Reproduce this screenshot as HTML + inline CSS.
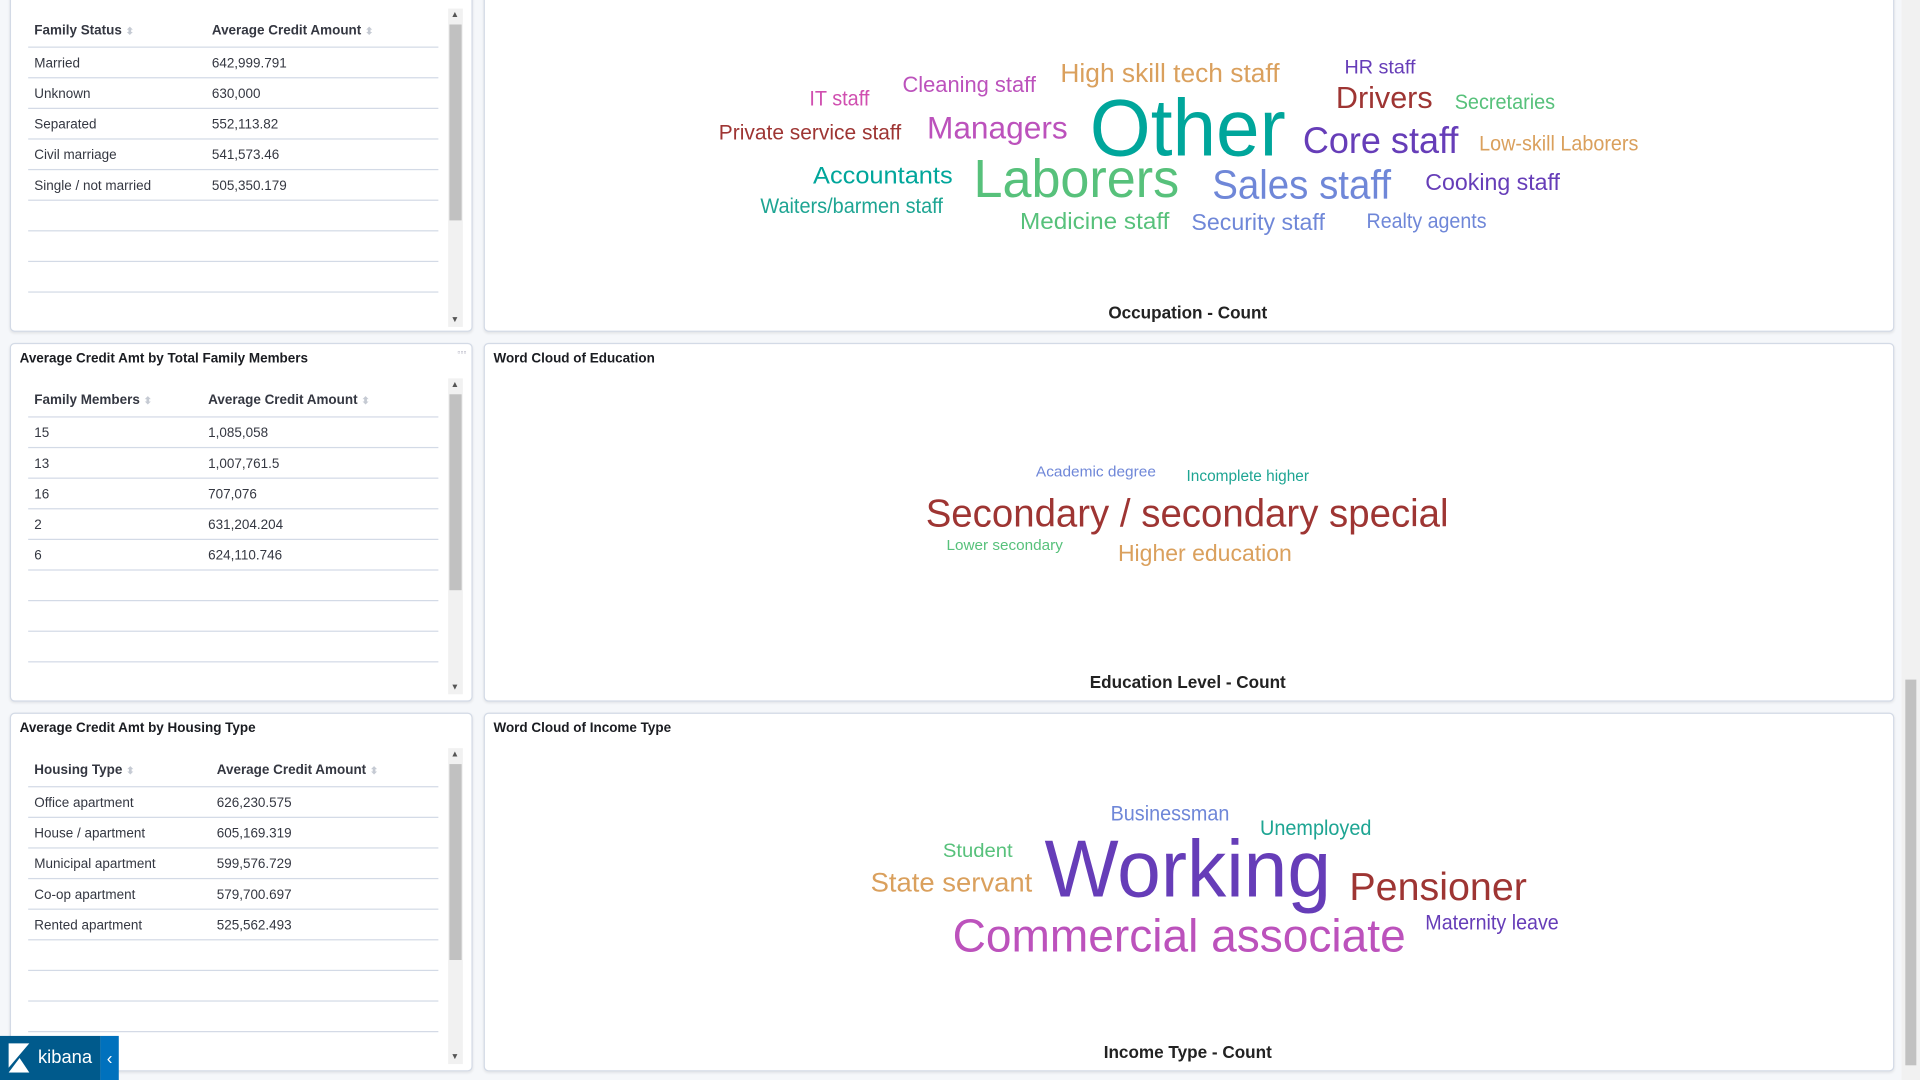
<!DOCTYPE html>
<html><head><meta charset="utf-8">
<style>
html,body{margin:0;padding:0;width:1920px;height:1080px;overflow:hidden;background:#f5f7fa;font-family:"Liberation Sans",sans-serif;}
#root{position:absolute;left:0;top:0;width:1568px;height:882px;transform:scale(1.22449);transform-origin:0 0;}
.panel{position:absolute;background:#fff;border:1px solid #d3dae6;border-radius:4px;box-shadow:0 1px 2px rgba(0,0,0,.08);}
.ptitle{position:absolute;left:7px;top:6px;font-size:11px;font-weight:bold;color:#1a1c21;}
.tbl{position:absolute;left:14px;width:335px;}
.hdr{height:26px;border-bottom:1px solid #d3dae6;font-size:11px;font-weight:bold;color:#343741;position:relative;}
.row{height:24px;border-bottom:1px solid #d3dae6;font-size:11px;color:#343741;position:relative;}
.c1,.c2{position:absolute;top:7px;}
.c1{left:5px}
.sort{color:#c5cad3;font-size:8px;}
.vscroll{position:absolute;width:12px;background:#f1f1f1;}
.thumb{position:absolute;left:1px;width:10px;background:#c1c1c1;}
.arr{position:absolute;left:2px;font-size:7px;color:#555;}
svg text{font-family:"Liberation Sans Narrow","Liberation Sans",sans-serif;}
</style></head><body>
<div id="root">

<div class="panel" style="left:8px;top:-6px;width:376px;height:275px;">
 <div class="tbl" style="top:17px">
  <div class="hdr"><span class="c1">Family Status <span class="sort">⬍</span></span><span class="c2" style="left:150px">Average Credit Amount <span class="sort">⬍</span></span></div>
  <div class="row"><span class="c1">Married</span><span class="c2" style="left:150px">642,999.791</span></div>
  <div class="row"><span class="c1">Unknown</span><span class="c2" style="left:150px">630,000</span></div>
  <div class="row"><span class="c1">Separated</span><span class="c2" style="left:150px">552,113.82</span></div>
  <div class="row"><span class="c1">Civil marriage</span><span class="c2" style="left:150px">541,573.46</span></div>
  <div class="row"><span class="c1">Single / not married</span><span class="c2" style="left:150px">505,350.179</span></div>
  <div class="row"></div><div class="row"></div><div class="row"></div>
 </div>
 <div class="vscroll" style="left:357px;top:12px;height:260px"><span class="arr" style="top:2px">▲</span><div class="thumb" style="top:13px;height:160px"></div><span class="arr" style="bottom:2px">▼</span></div>
</div>

<div class="panel" style="left:8px;top:280px;width:376px;height:291px;">
 <div class="ptitle">Average Credit Amt by Total Family Members</div>
 <div style="position:absolute;right:4px;top:4px;font-size:7px;color:#aab">▫▫▫</div>
 <div class="tbl" style="top:33px">
  <div class="hdr"><span class="c1">Family Members <span class="sort">⬍</span></span><span class="c2" style="left:147px">Average Credit Amount <span class="sort">⬍</span></span></div>
  <div class="row"><span class="c1">15</span><span class="c2" style="left:147px">1,085,058</span></div>
  <div class="row"><span class="c1">13</span><span class="c2" style="left:147px">1,007,761.5</span></div>
  <div class="row"><span class="c1">16</span><span class="c2" style="left:147px">707,076</span></div>
  <div class="row"><span class="c1">2</span><span class="c2" style="left:147px">631,204.204</span></div>
  <div class="row"><span class="c1">6</span><span class="c2" style="left:147px">624,110.746</span></div>
  <div class="row"></div><div class="row"></div><div class="row"></div>
 </div>
 <div class="vscroll" style="left:357px;top:28px;height:258px"><span class="arr" style="top:2px">▲</span><div class="thumb" style="top:13px;height:160px"></div><span class="arr" style="bottom:2px">▼</span></div>
</div>

<div class="panel" style="left:8px;top:582px;width:376px;height:291px;">
 <div class="ptitle">Average Credit Amt by Housing Type</div>
 <div class="tbl" style="top:33px">
  <div class="hdr"><span class="c1">Housing Type <span class="sort">⬍</span></span><span class="c2" style="left:154px">Average Credit Amount <span class="sort">⬍</span></span></div>
  <div class="row"><span class="c1">Office apartment</span><span class="c2" style="left:154px">626,230.575</span></div>
  <div class="row"><span class="c1">House / apartment</span><span class="c2" style="left:154px">605,169.319</span></div>
  <div class="row"><span class="c1">Municipal apartment</span><span class="c2" style="left:154px">599,576.729</span></div>
  <div class="row"><span class="c1">Co-op apartment</span><span class="c2" style="left:154px">579,700.697</span></div>
  <div class="row"><span class="c1">Rented apartment</span><span class="c2" style="left:154px">525,562.493</span></div>
  <div class="row"></div><div class="row"></div><div class="row"></div>
 </div>
 <div class="vscroll" style="left:357px;top:28px;height:258px"><span class="arr" style="top:2px">▲</span><div class="thumb" style="top:13px;height:160px"></div><span class="arr" style="bottom:2px">▼</span></div>
</div>

<div class="panel" style="left:395px;top:-6px;width:1150px;height:275px;"></div>
<div class="panel" style="left:395px;top:280px;width:1150px;height:291px;"><div class="ptitle">Word Cloud of Education</div></div>
<div class="panel" style="left:395px;top:582px;width:1150px;height:291px;"><div class="ptitle">Word Cloud of Income Type</div></div>

<svg id="clouds" width="1568" height="882" style="position:absolute;left:0;top:0"></svg>

<div style="position:absolute;left:1553px;top:0;width:15px;height:882px;background:#f1f1f1"><div style="position:absolute;left:3px;top:555px;width:9px;height:315px;background:#c1c1c1"></div></div>

<div style="position:absolute;left:0;top:846px;width:82px;height:36px;background:#005a8c;color:#fff;font-size:15px">
 <svg width="20" height="24" style="position:absolute;left:7px;top:6px"><polygon points="0,0 17,0 0,20" fill="#fff"/><polygon points="0,24 9,12 17,24" fill="#fff"/></svg>
 <span style="position:absolute;left:31px;top:9px">kibana</span></div>
<div style="position:absolute;left:82px;top:846px;width:15px;height:36px;background:#0071bd;color:#fff;font-size:14px;text-align:center;line-height:36px">‹</div>
</div>

<script>
// Occupation word cloud
const occWords=["Other","Laborers","Sales staff","Core staff","Managers","Drivers","High skill tech staff","Cleaning staff","IT staff","HR staff","Secretaries","Low-skill Laborers","Private service staff","Accountants","Waiters/barmen staff","Medicine staff","Security staff","Realty agents","Cooking staff"];
const occSizes=[66,44,33,30,26,25,21,18,17,16,17,17,17,20,17,19,19,17,19];
const occColors=["#00a69b","#57c17b","#6f87d8","#663db8","#bc52bc","#9e3533","#daa05d","#bc52bc","#d04fb0","#663db8","#57c17b","#daa05d","#9e3533","#00a69b","#1ea593","#57c17b","#6f87d8","#6f87d8","#663db8"];
const occX=[890,795,990,1064,757,1091,866,737,661,1098,1188,1208,587,664,621,833,973,1116,1164];
const occY=[127,161,162,125,113,88,67,75,86,60,89,123,114,150,174,187,188,186,155];
const occW=[160,168,146,127,115,79,179,109,49,58,82,130,149,114,149,122,109,98,110];
// Education word cloud
const eduWords=["Secondary / secondary special","Academic degree","Incomplete higher","Lower secondary","Higher education"];
const eduSizes=[32,12,13,12,19];
const eduColors=["#9e3533","#6f87d8","#1ea593","#57c17b","#daa05d"];
const eduX=[756,846,969,773,913];
const eduY=[430,389,393,449,458];
const eduW=[427,98,100,95,142];
// Income word cloud
const incWords=["Working","Commercial associate","Pensioner","State servant","Businessman","Unemployed","Student","Maternity leave"];
const incSizes=[66,38,32,22,17,17,16,17];
const incColors=["#663db8","#bc52bc","#9e3533","#daa05d","#6f87d8","#1ea593","#57c17b","#663db8"];
const incX=[853,778,1102,711,907,1029,770,1164];
const incY=[732,777,735,728,670,682,700,759];
const incW=[234,370,145,132,97,91,57,109];

const NS="http://www.w3.org/2000/svg";
const svg=document.getElementById('clouds');
function cloud(words,sizes,colors,xs,ys,ws,name){
  words.forEach((w,i)=>{
    const t=document.createElementNS(NS,'text');
    
    
    t.setAttribute('x',xs[i]);t.setAttribute('y',ys[i]);
    t.setAttribute('font-size',sizes[i]);t.setAttribute('fill',colors[i]);
    t.setAttribute('textLength',ws[i]);t.setAttribute('lengthAdjust','spacingAndGlyphs');
    t.textContent=w;svg.appendChild(t);
  });
}
cloud(occWords,occSizes,occColors,occX,occY,occW,'occupation');
cloud(eduWords,eduSizes,eduColors,eduX,eduY,eduW,'education');
cloud(incWords,incSizes,incColors,incX,incY,incW,'income');
const titles=[["Occupation - Count",260],["Education Level - Count",562],["Income Type - Count",864]];
titles.forEach(tt=>{
  const t=document.createElementNS(NS,'text');
  
  
  t.setAttribute('x',970);t.setAttribute('y',tt[1]);t.setAttribute('text-anchor','middle');
  t.setAttribute('font-size',14);t.setAttribute('font-weight','bold');t.setAttribute('fill','#222');
  t.style.fontFamily='"Liberation Sans",sans-serif';
  t.textContent=tt[0];svg.appendChild(t);
});
</script>
</body></html>
